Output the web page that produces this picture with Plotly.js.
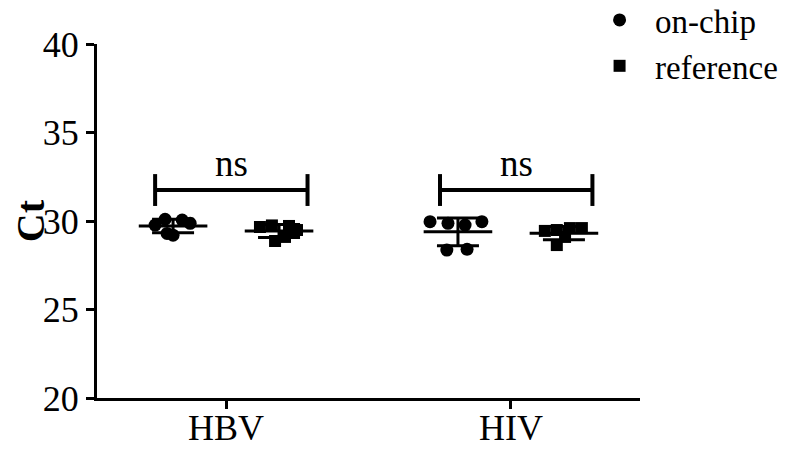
<!DOCTYPE html>
<html>
<head>
<meta charset="utf-8">
<script src="https://cdn.plot.ly/plotly-3.0.1.min.js"></script>
<style>
  body { margin: 0; background: #fff; }
  #chart { width: 800px; height: 451px; }
</style>
</head>
<body>
<div id="chart"></div>
<script>
// categories and their positions on the x axis
var groups = ['HBV', 'HIV'];
var groupPos = [1, 2];

// Ct values
var hbvOnChip = [29.77, 30.1, 30.05, 29.87, 29.3, 29.2];
var hbvReference = [29.66, 29.75, 29.72, 29.49, 28.87, 29.1];
var hivOnChip = [29.96, 29.87, 29.77, 29.96, 28.36, 28.4];
var hivReference = [29.44, 29.49, 29.6, 29.6, 28.64, 29.1];

// horizontal scatter of the dots inside each column (in x units)
var hbvOnChipJitter = [-0.063, -0.028, 0.032, 0.06, -0.021, 0];
var hbvReferenceJitter = [-0.067, -0.025, 0.035, 0.063, -0.014, 0.021];
var hivOnChipJitter = [-0.098, -0.035, 0.025, 0.084, -0.039, 0.032];
var hivReferenceJitter = [-0.067, -0.025, 0.021, 0.063, -0.025, 0.004];

var sigLabels = ['ns', 'ns'];

var offset = 0.186;

function mean(a) {
    return a.reduce(function (s, v) { return s + v; }, 0) / a.length;
}
function sd(a) {
    var m = mean(a);
    var ss = a.reduce(function (s, v) { return s + (v - m) * (v - m); }, 0);
    return Math.sqrt(ss / (a.length - 1));
}
function place(center, jit) {
    return jit.map(function (j) { return center + j; });
}

var onChipX = place(groupPos[0] - offset, hbvOnChipJitter).concat(place(groupPos[1] - offset, hivOnChipJitter));
var onChipY = hbvOnChip.concat(hivOnChip);
var refX = place(groupPos[0] + offset, hbvReferenceJitter).concat(place(groupPos[1] + offset, hivReferenceJitter));
var refY = hbvReference.concat(hivReference);

var sets = [hbvOnChip, hbvReference, hivOnChip, hivReference];
var setX = [groupPos[0] - offset, groupPos[0] + offset, groupPos[1] - offset, groupPos[1] + offset];

var traceOnChip = {
    x: onChipX,
    y: onChipY,
    type: 'scatter',
    mode: 'markers',
    name: 'on-chip',
    marker: { symbol: 'circle', size: 13, color: '#000' }
};

var traceRef = {
    x: refX,
    y: refY,
    type: 'scatter',
    mode: 'markers',
    name: 'reference',
    marker: { symbol: 'square', size: 12, color: '#000' }
};

// mean line with SD error bars
var traceMean = {
    x: setX,
    y: sets.map(mean),
    type: 'scatter',
    mode: 'markers',
    showlegend: false,
    hoverinfo: 'skip',
    marker: { symbol: 'line-ew', size: 49, color: '#000', line: { width: 3, color: '#000' } },
    error_y: { type: 'data', array: sets.map(sd), visible: true, color: '#000', thickness: 3, width: 21 }
};

var fontFam = '"Liberation Serif", "Times New Roman", serif';

// significance brackets
var shapes = [];
var annotations = [];
groupPos.forEach(function (g, i) {
    var x0 = g - 0.249, x1 = g + 0.286;
    var ln = { color: '#000', width: 4 };
    shapes.push({ type: 'line', xref: 'x', yref: 'y', x0: x0, x1: x1, y0: 31.75, y1: 31.75, line: ln });
    shapes.push({ type: 'line', xref: 'x', yref: 'y', x0: x0, x1: x0, y0: 30.85, y1: 32.65, line: ln });
    shapes.push({ type: 'line', xref: 'x', yref: 'y', x0: x1, x1: x1, y0: 30.85, y1: 32.65, line: ln });
    annotations.push({
        x: (x0 + x1) / 2, y: 31.95, xref: 'x', yref: 'y',
        text: sigLabels[i], showarrow: false, yanchor: 'bottom',
        font: { family: fontFam, size: 37, color: '#000' }
    });
});

// y axis title
annotations.push({
    x: -0.123, y: 0.5, xref: 'paper', yref: 'paper',
    text: '<b>Ct</b>', textangle: -90, showarrow: false,
    xanchor: 'center', yanchor: 'middle',
    font: { family: fontFam, size: 40, color: '#000' }
});

var layout = {
    width: 800,
    height: 451,
    margin: { l: 97, r: 160, t: 44, b: 53, autoexpand: false },
    paper_bgcolor: '#fff',
    plot_bgcolor: '#fff',
    font: { family: fontFam, size: 36, color: '#000' },
    showlegend: true,
    legend: {
        x: 0.897, y: 1.147, xref: 'paper', yref: 'paper', xanchor: 'left', yanchor: 'top',
        font: { family: fontFam, size: 33, color: '#000' },
        itemwidth: 61,
        bgcolor: 'rgba(0,0,0,0)'
    },
    xaxis: {
        range: [0.547, 2.453],
        tickvals: groupPos,
        ticktext: groups,
        showline: true, linecolor: '#000', linewidth: 3,
        ticks: 'outside', ticklen: 8, tickwidth: 3, tickcolor: '#000',
        ticklabelstandoff: -12,
        showgrid: false, zeroline: false,
        tickfont: { family: fontFam, size: 36, color: '#000' }
    },
    yaxis: {
        range: [20, 40],
        dtick: 5,
        showline: true, linecolor: '#000', linewidth: 3,
        ticks: 'outside', ticklen: 8, tickwidth: 3, tickcolor: '#000',
        showgrid: false, zeroline: false,
        tickfont: { family: fontFam, size: 36, color: '#000' }
    },
    shapes: shapes,
    annotations: annotations
};

Plotly.newPlot('chart', [traceOnChip, traceRef, traceMean], layout, { displayModeBar: false });
</script>
</body>
</html>
